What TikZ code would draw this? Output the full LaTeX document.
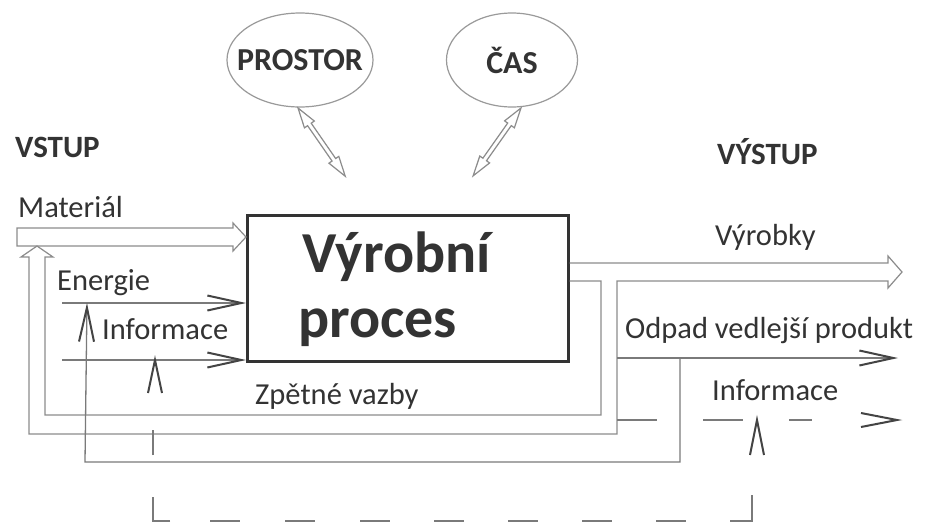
\documentclass[tikz,border=0pt]{standalone}
\usepackage{fontspec}
\setmainfont{Carlito}
\usetikzlibrary{arrows.meta,shapes.geometric,calc}
\definecolor{tcol}{HTML}{333333}
\definecolor{lgray}{HTML}{7A7A7A}
\definecolor{hgray}{HTML}{8C8C8C}
\definecolor{dgray}{HTML}{444444}
\definecolor{egray}{HTML}{9A9A9A}
\newcommand\mydblarrow[1]{\draw[hol,fill=white] (0,0) -- (20,6) -- (20,2.2) -- (#1-20,2.2) -- (#1-20,6) -- (#1,0) -- (#1-20,-6) -- (#1-20,-2.2) -- (20,-2.2) -- (20,-6) -- cycle;}
\begin{document}
\begin{tikzpicture}[x=1pt,y=-1pt,
  ln/.style={draw=lgray,line width=1.3pt},
  hol/.style={draw=hgray,line width=1.2pt,line join=miter},
  chev/.style={draw=dgray,line width=2pt},
  barb/.style={-{Straight Barb[length=34pt,width=15pt,line width=2pt,color=dgray]}},
  txt/.style={text=tcol,font=\fontsize{30.5}{34}\selectfont,inner sep=0pt,anchor=base west},
  btxt/.style={text=tcol,font=\fontsize{31}{35}\selectfont\bfseries,inner sep=0pt,anchor=base west},
  big/.style={text=tcol,font=\fontsize{58}{64}\selectfont\bfseries,inner sep=0pt,anchor=base west},
  ell/.style={ellipse,draw=egray,line width=1.2pt,inner sep=0pt,text=tcol,font=\fontsize{32}{36}\selectfont\bfseries},
]
\useasboundingbox[fill=white] (0,0) rectangle (926,528);

% main box
\node[draw=tcol,line width=2.5pt,minimum width=321pt,minimum height=146pt,inner sep=0pt,anchor=north west] (vp) at (246,214) {};
\node[big] (t1) at (302,272) {Výrobní};
\node[big] (t2) at (298,337) {proces};

% ellipses
\node[ell,minimum width=146pt,minimum height=94pt] (pr) at (300,60) {\makebox[0pt]{PROSTOR}};
\node[ell,minimum width=131pt,minimum height=94pt] (cas) at (512,60) {\makebox[0pt]{\raisebox{-4pt}{ČAS}}};

\begin{scope}[shift={(298,108)},rotate=-55.3]
\mydblarrow{83}
\end{scope}
\begin{scope}[shift={(521,108)},rotate=-125.2]
\mydblarrow{83}
\end{scope}

% labels
\node[btxt] (vstup) at (15,157) {VSTUP};
\node[btxt] (vystup) at (717,164) {VÝSTUP};
\node[txt] (mat) at (18,217) {Materiál};
\node[txt] (ene) at (57,290) {Energie};
\node[txt] (infin) at (102,339) {Informace};
\node[txt] (zpet) at (255,404) {Zpětné vazby};
\node[txt] (vyr) at (715,245) {Výrobky};
\node[txt] (odp) at (625,338) {Odpad vedlejší produkt};
\node[txt] (infout) at (712,400) {Informace};

% coordinates
\coordinate (y237) at (0,237);
\coordinate (y263) at (0,263);
\coordinate (y281) at (0,281);
\coordinate (y303) at (0,303);
\coordinate (y360) at (0,360);

% material hollow arrow
\draw[hol] (17,228) -- (233,228) -- (233,223) -- (vp.west |- y237) -- (233,251) -- (233,246) -- (17,246) -- cycle;

% output hollow arrow + feedback hollow loop
\draw[hol] (vp.east |- y263) -- (888,263) -- (888,256) -- (902,272) -- (888,288) -- (888,281) -- (617,281) -- (617,434) -- (29,434) -- (29,257) -- (21,257) -- (37,246) -- (53,257) -- (45,257) -- (45,415) -- (601,415) -- (601,281) -- (vp.east |- y281);

% energy / information inputs
\coordinate (eS) at (62,303);
\coordinate (iS) at (62,360);
\draw[ln,barb] (eS) -- (vp.west |- y303);
\draw[ln,barb] (iS) -- (vp.west |- y360);

% waste output and its feedback
\draw[ln,barb] (617,358) -- (898,358);
\draw[ln,barb] (680,358) -- (680,462) -- (85,462) -- (87,303);

% information output (dashed)
\draw[ln,dash pattern=on 40pt off 46pt] (617,420) -- (812,420);
\draw[chev] (861,413) -- (897,420) -- (861,427);
\draw[chev] (750,455) -- (757,420) -- (764,455);

% dashed information feedback
\draw[ln] (752,495) -- (752,521) -- (730,521);
\foreach \a in {210,285,360,434,508,582,656} \draw[ln] (\a,521) -- ++(30,0);
\draw[ln] (170,521) -- (153,521) -- (153,497);
\draw[ln] (153,455) -- (153,430);
\draw[chev] (148,393) -- (155,360) -- (162,393);
\end{tikzpicture}
\end{document}
